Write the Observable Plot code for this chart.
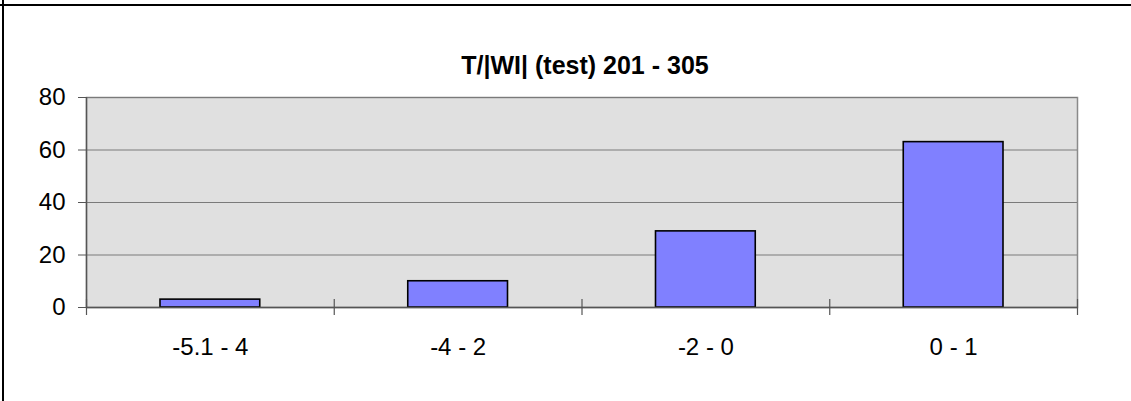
<!DOCTYPE html>
<html>
<head>
<meta charset="utf-8">
<script src="https://cdn.jsdelivr.net/npm/d3@7"></script>
<script src="https://cdn.jsdelivr.net/npm/@observablehq/plot@0.6"></script>
<style>
  html, body { margin: 0; padding: 0; background: #fff; }
  #wrap { position: relative; width: 1131px; height: 401px; overflow: hidden; background: #fff; }
  #title { position: absolute; left: 0; width: 1170px; top: 53px; text-align: center;
    font: bold 25px/24px "Liberation Sans", Arial, sans-serif; color: #000; }
  #chart { position: absolute; left: 0; top: 88px; }
  .bt { position: absolute; left: 0; top: 4px; width: 1131px; height: 2px; background: #000; z-index: 5; }
  .bl { position: absolute; left: 2px; top: 0; width: 2px; height: 401px; background: #000; z-index: 5; }
</style>
</head>
<body>
<div id="wrap">
  <div class="bt"></div>
  <div class="bl"></div>
  <div id="title">T/|WI| (test) 201 - 305</div>
  <div id="chart"></div>
</div>
<script>
const categories = ["-5.1 - 4", "-4 - 2", "-2 - 0", "0 - 1"];
const counts = [3, 10, 29, 63];
const yTicks = [0, 20, 40, 60, 80];

const data = categories.map((c, i) => ({cat: c, i, count: counts[i]}));
const bounds = d3.range(categories.length + 1);
const centers = categories.map((c, i) => i + 0.5);

const chart = Plot.plot({
  width: 1131,
  height: 313,
  marginLeft: 86,
  marginRight: 54,
  marginTop: 9,
  marginBottom: 94,
  style: {fontFamily: "'Liberation Sans', Arial, sans-serif", fontSize: "24px", color: "#000", background: "transparent", overflow: "visible"},
  x: {type: "linear", domain: [0, categories.length], axis: null},
  y: {domain: [0, 80], axis: null},
  marks: [
    Plot.frame({fill: "#e0e0e0", stroke: "#8a8a8a", strokeWidth: 1.5}),
    Plot.gridY(yTicks, {stroke: "#7a7a7a", strokeOpacity: 1, strokeWidth: 1.2}),
    Plot.rectY(data, {x1: "i", x2: d => d.i + 1, y: "count", insetLeft: 74, insetRight: 74,
      fill: "#8080ff", stroke: "#000", strokeWidth: 1.6}),
    Plot.ruleY([0], {stroke: "#555", strokeWidth: 1.4}),
    Plot.ruleX([0], {stroke: "#555", strokeWidth: 1.4}),
    Plot.ruleX(bounds, {x: d => d, y1: 0, y2: 0, insetTop: -8, insetBottom: -8, stroke: "#555", strokeWidth: 1.2}),
    Plot.axisY({ticks: yTicks, tickSize: 8, tickPadding: 13, stroke: "#555", label: null, fontSize: 24}),
    Plot.axisX({ticks: centers, tickFormat: d => categories[Math.floor(d)], tickSize: 0, tickPadding: 30, label: null, fontSize: 24})
  ]
});
document.getElementById("chart").appendChild(chart);
</script>
</body>
</html>
